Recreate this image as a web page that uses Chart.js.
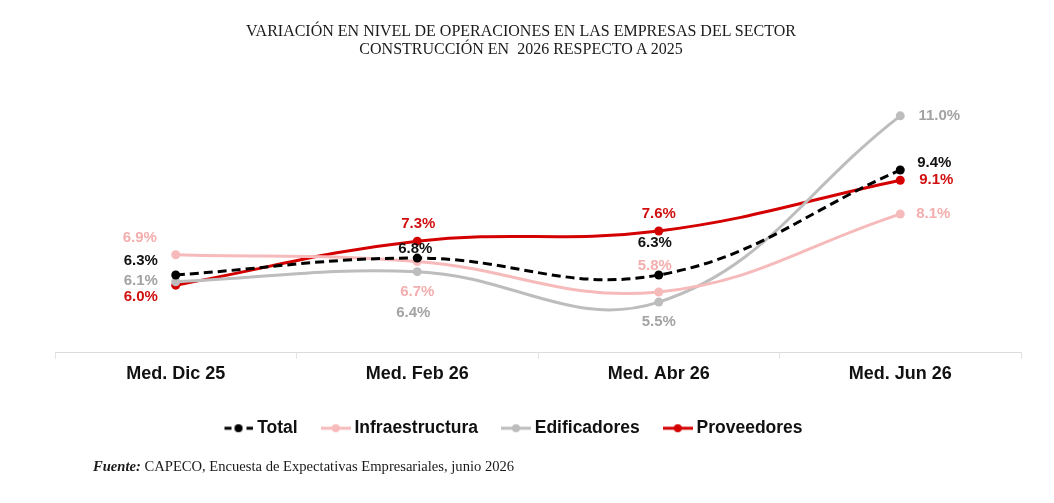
<!DOCTYPE html>
<html>
<head>
<meta charset="utf-8">
<script src="https://cdn.jsdelivr.net/npm/chart.js@4.4.1/dist/chart.umd.min.js"></script>
<style>
    html, body { margin: 0; padding: 0; background: #fff; }
    #wrap { position: relative; width: 1054px; height: 503px; }
    #title {
        position: absolute; left: 0; top: 22px; width: 1042px; text-align: center;
        font-family: "Liberation Serif", serif; font-size: 16px; line-height: 18px; color: #1a1a1a;
    }
    #source {
        position: absolute; left: 93px; top: 458px;
        font-family: "Liberation Serif", serif; font-size: 14.6px; color: #1a1a1a;
    }
    canvas { position: absolute; left: 0; top: 0; }
</style>
</head>
<body>
<div id="wrap">
    <canvas id="chart" width="1054" height="503"></canvas>
    <div id="title">VARIACIÓN EN NIVEL DE OPERACIONES EN LAS EMPRESAS DEL SECTOR<br>CONSTRUCCIÓN EN&nbsp; 2026 RESPECTO A 2025</div>
    <div id="source"><b><i>Fuente:</i></b> CAPECO, Encuesta de Expectativas Empresariales, junio 2026</div>
</div>
<script>
const labels = ['Med. Dic 25', 'Med. Feb 26', 'Med. Abr 26', 'Med. Jun 26'];
const total = [6.3, 6.8, 6.3, 9.4];
const infraestructura = [6.9, 6.7, 5.8, 8.1];
const edificadores = [6.1, 6.4, 5.5, 11.0];
const proveedores = [6.0, 7.3, 7.6, 9.1];

// label offsets from each point [dx, dy]
const totalPos = [[-35, -14], [-2, -9], [-4, -32], [34, -7]];
const infraPos = [[-36, -17], [0, 30], [-4, -26], [33, 0]];
const edifPos = [[-35, -1], [-4, 41], [0, 20], [39, 0]];
const provPos = [[-35, 12], [1, -17], [0, -17], [36, 0]];

/**
 * Small legend icon: a line with a dot in the middle
 */
function legendIcon(color, dashed) {
    const c = document.createElement('canvas');
    c.width = 30;
    c.height = 12;
    const ctx = c.getContext('2d');
    ctx.strokeStyle = color;
    ctx.lineWidth = 3;
    if (dashed) ctx.setLineDash([7, 4]);
    ctx.beginPath();
    ctx.moveTo(dashed ? 1 : 0, 6);
    ctx.lineTo(30, 6);
    ctx.stroke();
    ctx.fillStyle = color;
    ctx.beginPath();
    ctx.arc(15, 6, 4, 0, Math.PI * 2);
    ctx.fill();
    return c;
}

function series(label, data, color, textColor, pos, dashed) {
    return {
        label: label,
        data: data,
        borderColor: color,
        backgroundColor: color,
        borderWidth: 3,
        borderDash: dashed ? [9, 5] : [],
        pointRadius: 4.5,
        pointBorderWidth: 0,
        pointHoverRadius: 4.5,
        tension: 0.4,
        icon: legendIcon(color, dashed),
        textColor: textColor,
        labelPos: pos
    };
}

const pointLabels = {
    id: 'pointLabels',
    afterDatasetsDraw(chart) {
        const ctx = chart.ctx;
        ctx.save();
        ctx.font = 'bold 15px "Liberation Sans", Arial, sans-serif';
        ctx.textAlign = 'center';
        ctx.textBaseline = 'middle';
        chart.data.datasets.forEach((ds, i) => {
            const meta = chart.getDatasetMeta(i);
            meta.data.forEach((pt, j) => {
                ctx.fillStyle = ds.textColor;
                ctx.fillText(ds.data[j].toFixed(1) + '%', pt.x + ds.labelPos[j][0], pt.y + ds.labelPos[j][1]);
            });
        });
        ctx.restore();
    }
};

new Chart(document.getElementById('chart'), {
    type: 'line',
    data: {
        labels: labels,
        datasets: [
            series('Total', total, '#000000', '#111111', totalPos, true),
            series('Infraestructura', infraestructura, '#f7baba', '#f4aeae', infraPos, false),
            series('Edificadores', edificadores, '#bdbdbd', '#a3a3a3', edifPos, false),
            series('Proveedores', proveedores, '#d40000', '#d01010', provPos, false)
        ]
    },
    options: {
        responsive: false,
        animation: false,
        layout: {
            padding: { left: 10, right: 33, top: 82, bottom: 56 }
        },
        scales: {
            x: {
                offset: true,
                border: { color: '#dcdcdc', width: 1 },
                grid: { drawOnChartArea: false, color: '#e4e4e4', tickLength: 6, offset: true },
                ticks: {
                    color: '#111111',
                    padding: 4,
                    font: { family: '"Liberation Sans", Arial, sans-serif', size: 18, weight: 'bold' }
                },
                afterFit(scale) {
                    scale.height += 3;
                }
            },
            y: {
                min: 4,
                max: 12,
                grid: { display: false },
                border: { display: false },
                ticks: { display: false },
                afterFit(scale) {
                    scale.width = 45;
                }
            }
        },
        plugins: {
            legend: {
                position: 'bottom',
                labels: {
                    usePointStyle: true,
                    pointStyleWidth: 20,
                    padding: 28,
                    color: '#111111',
                    font: { family: '"Liberation Sans", Arial, sans-serif', size: 17.5, weight: 'bold' },
                    generateLabels(chart) {
                        return chart.data.datasets.map((ds, i) => ({
                            text: ds.label,
                            pointStyle: ds.icon,
                            fillStyle: ds.borderColor,
                            strokeStyle: ds.borderColor,
                            lineWidth: 0,
                            fontColor: '#111111',
                            datasetIndex: i
                        }));
                    }
                }
            },
            tooltip: { enabled: false }
        }
    },
    plugins: [pointLabels]
});
</script>
</body>
</html>
